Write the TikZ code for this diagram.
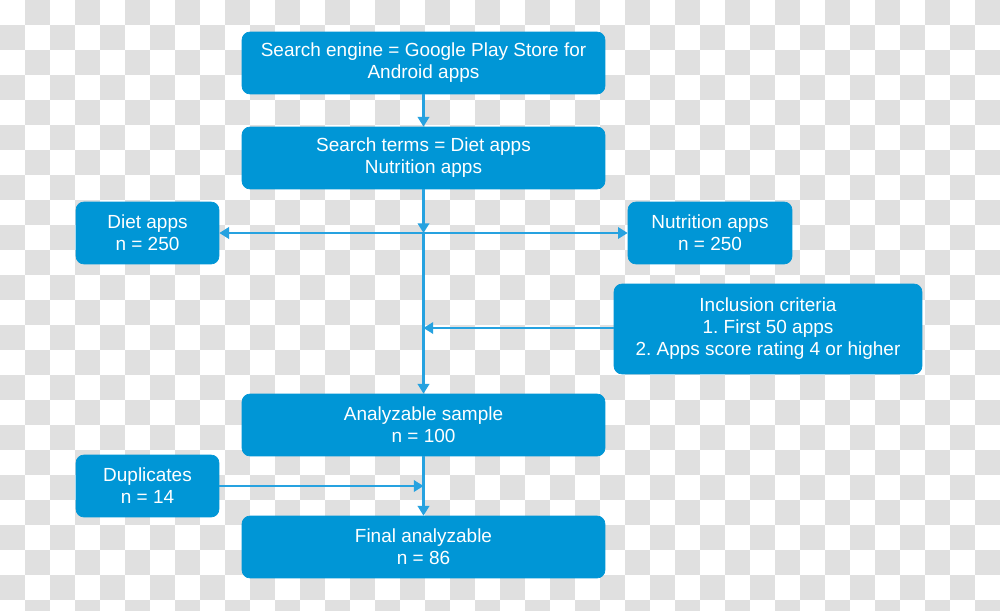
\documentclass[tikz,border=0pt]{standalone}
\usepackage{fontspec}
\setmainfont{Liberation Sans}
\usetikzlibrary{arrows.meta}
\definecolor{boxblue}{RGB}{0,150,214}
\definecolor{lineblue}{RGB}{38,162,224}
\definecolor{checkgray}{RGB}{224,224,224}
\frenchspacing
\begin{document}
\begin{tikzpicture}[
    x=0.02cm, y=-0.02cm,
    stage/.style={draw=boxblue, fill=boxblue, rounded corners=0.16cm, minimum width=7.26cm, minimum height=1.24cm, align=center, text=white, font=\fontsize{10.8}{12.5}\selectfont, inner sep=0pt},
    side/.style={stage, minimum width=2.86cm},
    flow/.style={draw=lineblue, line width=1.2pt, -{Triangle[length=5.5pt,width=6.5pt]}},
    link/.style={draw=lineblue, line width=1.2pt}
]
% fond
\useasboundingbox (0,0) rectangle (1000,611);
\begin{scope}
\clip (0,0) rectangle (1000,611);
\fill[white] (0,0) rectangle (1000,611);
\foreach \i in {0,...,39}{
  \foreach \j in {0,...,24}{
    \pgfmathparse{int(mod(\i+\j,2))}
    \ifnum\pgfmathresult=1 \fill[checkgray] (\i*25,\j*25) rectangle ++(25,25); \fi
  }
}
\end{scope}

% Recherche
\node[stage] (engine) at (423.5, 63) {Search engine = Google Play Store for\\Android apps};
\node[stage] (terms) at (423.5, 158) {Search terms = Diet apps\\Nutrition apps};

\node[side] (diet) at (147.5, 233) {Diet apps\\n = 250};
\node[side, minimum width=3.28cm] (nutri) at (710, 233) {Nutrition apps\\n = 250};
\node[stage, minimum width=6.16cm, minimum height=1.8cm] (incl) at (768, 329) {Inclusion criteria\\1. First 50 apps\\2. Apps score rating 4 or higher};

% Échantillon
\node[stage] (sample) at (423.5, 425) {Analyzable sample\\n = 100};
\node[side] (dup) at (147.5, 486) {Duplicates\\n = 14};
\node[stage] (final) at (423.5, 547) {Final analyzable\\n = 86};

\coordinate (split) at (423.5, 233);
\coordinate (inclin) at (423.5, 328);
\coordinate (dupin) at (423.5, 486);

\draw[flow] (engine) -- (terms);
\draw[flow] (terms) -- (split);
\draw[flow] (split) -- (diet);
\draw[flow] (split) -- (nutri);
\draw[link] (split) -- (inclin);
\draw[flow] (inclin) -- (sample);
\draw[flow] (incl.west |- inclin) -- (inclin);
\draw[flow] (dup) -- (dupin);
\draw[flow] (sample) -- (final);
\end{tikzpicture}
\end{document}
